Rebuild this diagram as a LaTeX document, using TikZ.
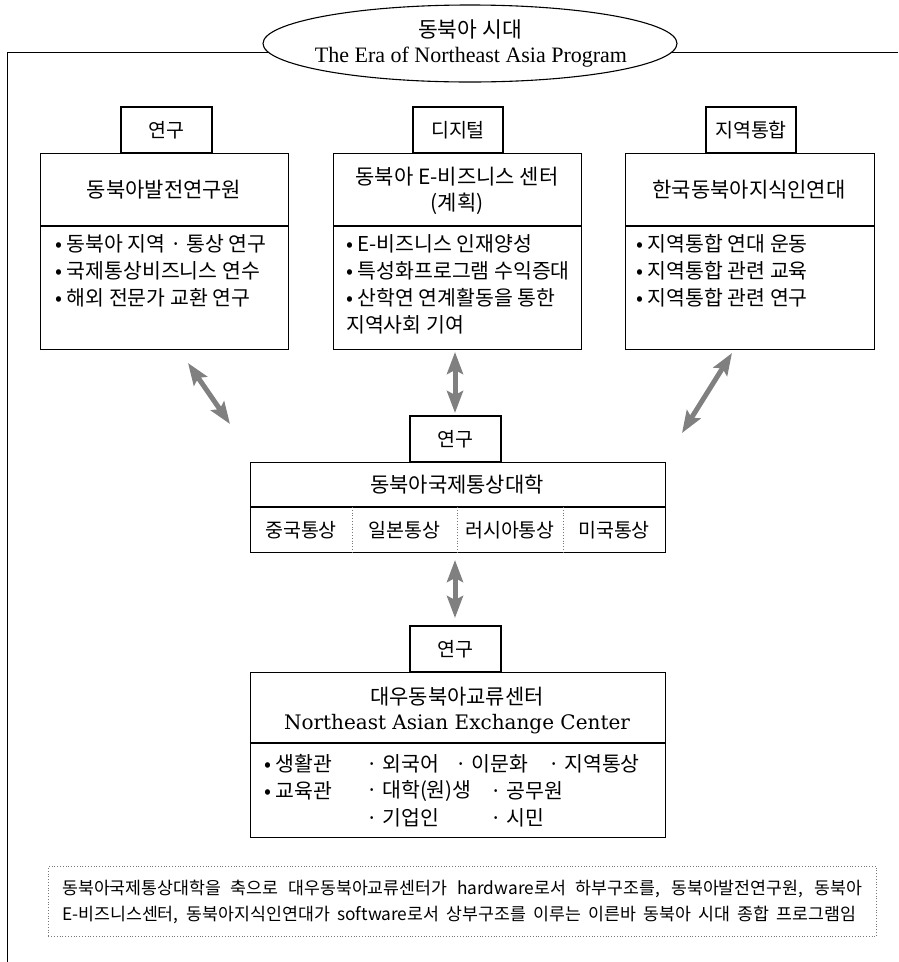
\documentclass[tikz,border=0pt]{standalone}
\usepackage{fontspec}
\newfontfamily\kr{Noto Sans CJK KR}
\newfontfamily\libser{Liberation Serif}
\newfontfamily\dvser{DejaVu Serif}
\usetikzlibrary{arrows.meta,shapes.geometric}
\definecolor{arrowgray}{RGB}{128,128,128}
\definecolor{dotgray}{RGB}{120,120,120}
\tikzset{
  box/.style={draw, line width=1.1pt, inner sep=0pt},
  ktitle/.style={font=\kr\fontsize{21}{26}\selectfont, inner sep=0pt},
  ktext/.style={font=\kr\fontsize{20.5}{23}\selectfont, inner sep=0pt, anchor=west},
  ktag/.style={font=\kr\fontsize{19.5}{23}\selectfont, inner sep=0pt},
  dualarrow/.style={draw=arrowgray, line width=5pt,
    {Stealth[length=22pt,width=16pt,inset=4pt]}-{Stealth[length=22pt,width=16pt,inset=4pt]}},
}
\begin{document}
\begin{tikzpicture}[x=1pt,y=-1pt]
\useasboundingbox (0,0) rectangle (898,962);

% outer frame
\coordinate (fbot) at (7,962);
\coordinate (fcorner) at (7,52);
\coordinate (fright) at (898,52);
\draw[line width=1pt] (fbot) -- (fcorner) -- (fright);

% top ellipse
\node[draw, ellipse, line width=1.1pt, fill=white, minimum width=414pt, minimum height=77pt, inner sep=0pt] (era) at (470,43.5) {};
\node[font=\kr\fontsize{21.5}{24}\selectfont, inner sep=0pt] (eraK) at (470,29) {동북아 시대};
\node[font=\libser\fontsize{22}{26}\selectfont, inner sep=0pt] (eraE) at (471,57) {The Era of Northeast Asia Program};

% tags on top row
\node[box, minimum width=91pt, minimum height=46pt] (tagL) at (166.5,130) {};
\node[ktag] (tagLt) at (tagL.center) {연구};
\node[box, minimum width=90pt, minimum height=46pt] (tagM) at (458,130) {};
\node[ktag] (tagMt) at (tagM.center) {디지털};
\node[box, minimum width=90pt, minimum height=46pt] (tagR) at (751,130) {};
\node[ktag] (tagRt) at (tagR.center) {지역통합};

% top row boxes
\node[box, minimum width=248pt, minimum height=196pt, anchor=north west] (boxL) at (40,153) {};
\node[box, minimum width=248pt, minimum height=196pt, anchor=north west] (boxM) at (333,153) {};
\node[box, minimum width=249pt, minimum height=196pt, anchor=north west] (boxR) at (625,153) {};
\draw[line width=1.1pt] (boxL.west |- 0,226) -- (boxL.east |- 0,226);
\draw[line width=1.1pt] (boxM.west |- 0,226) -- (boxM.east |- 0,226);
\draw[line width=1.1pt] (boxR.west |- 0,226) -- (boxR.east |- 0,226);

\node[ktitle] (titL) at (164,190) {동북아발전연구원};
\node[ktitle, align=center] (titM) at (457,191) {동북아 E-비즈니스 센터\\(계획)};
\node[ktitle] (titR) at (749,190) {한국동북아지식인연대};

\node[ktext] (l1) at (55,244) {• 동북아 지역 · 통상 연구};
\node[ktext] (l2) at (55,271) {• 국제통상비즈니스 연수};
\node[ktext] (l3) at (55,298) {• 해외 전문가 교환 연구};

\node[ktext] (m1) at (346,244) {• E-비즈니스 인재양성};
\node[ktext] (m2) at (346,271) {• 특성화프로그램 수익증대};
\node[ktext] (m3) at (346,298) {• 산학연 연계활동을 통한};
\node[ktext] (m4) at (346,325) {지역사회 기여};

\node[ktext] (r1) at (636,244) {• 지역통합 연대 운동};
\node[ktext] (r2) at (636,271) {• 지역통합 관련 교육};
\node[ktext] (r3) at (636,298) {• 지역통합 관련 연구};

% arrows
\coordinate (aL1) at (188,363); \coordinate (aL2) at (230,424);
\coordinate (aM1) at (455,352); \coordinate (aM2) at (455,413);
\coordinate (aR1) at (732,353); \coordinate (aR2) at (682,433);
\coordinate (aB1) at (455,560); \coordinate (aB2) at (455,618);
\draw[dualarrow] (aL1) -- (aL2);
\draw[dualarrow] (aM1) -- (aM2);
\draw[dualarrow] (aR1) -- (aR2);
\draw[dualarrow] (aB1) -- (aB2);

% middle unit
\node[box, minimum width=91pt, minimum height=46pt] (tagC) at (455.5,439) {};
\node[ktag] (tagCt) at (tagC.center) {연구};
\node[box, minimum width=415pt, minimum height=90pt, anchor=north west] (boxC) at (250,462) {};
\draw[line width=1.1pt] (boxC.west |- 0,507) -- (boxC.east |- 0,507);
\draw[dotted, dotgray, line width=0.8pt] (352,507) -- (352,552);
\draw[dotted, dotgray, line width=0.8pt] (457,507) -- (457,552);
\draw[dotted, dotgray, line width=0.8pt] (563,507) -- (563,552);
\node[ktitle] (titC) at (457,485) {동북아국제통상대학};
\node[ktag] (c1) at (301,530) {중국통상};
\node[ktag] (c2) at (404.5,530) {일본통상};
\node[ktag] (c3) at (510,530) {러시아통상};
\node[ktag] (c4) at (614,530) {미국통상};

% bottom unit
\node[box, minimum width=91pt, minimum height=46pt] (tagB) at (455.5,649) {};
\node[ktag] (tagBt) at (tagB.center) {연구};
\node[box, minimum width=415pt, minimum height=165pt, anchor=north west] (boxB) at (250,672) {};
\draw[line width=1.1pt] (boxB.west |- 0,743) -- (boxB.east |- 0,743);
\node[ktitle] (titB) at (457,697) {대우동북아교류센터};
\node[font=\dvser\fontsize{20}{24}\selectfont, inner sep=0pt] (titBe) at (457,724) {Northeast Asian Exchange Center};

\node[ktext] (b11) at (264,764) {• 생활관};
\node[ktext] (b12) at (366,764) {· 외국어};
\node[ktext] (b13) at (455,764) {· 이문화};
\node[ktext] (b14) at (548,764) {· 지역통상};
\node[ktext] (b21) at (264,791) {• 교육관};
\node[ktext] (b22) at (366,791) {· 대학(원)생};
\node[ktext] (b23) at (490,791) {· 공무원};
\node[ktext] (b32) at (366,818) {· 기업인};
\node[ktext] (b33) at (490,818) {· 시민};

% footnote
\node[draw=dotgray, dotted, line width=0.8pt, minimum width=828pt, minimum height=70pt, anchor=north west, inner sep=0pt] (note) at (48,866) {};
\node[font=\kr\fontsize{17.3}{19}\selectfont, inner sep=0pt, anchor=west] (n1) at (62,889) {\makebox[800pt][s]{동북아국제통상대학을 축으로 대우동북아교류센터가 hardware로서 하부구조를, 동북아발전연구원, 동북아}};
\node[font=\kr\fontsize{17.3}{19}\selectfont, inner sep=0pt, anchor=west] (n2) at (62,915) {\makebox[794pt][s]{E-비즈니스센터, 동북아지식인연대가 software로서 상부구조를 이루는 이른바 동북아 시대 종합 프로그램임}};
\end{tikzpicture}
\end{document}
